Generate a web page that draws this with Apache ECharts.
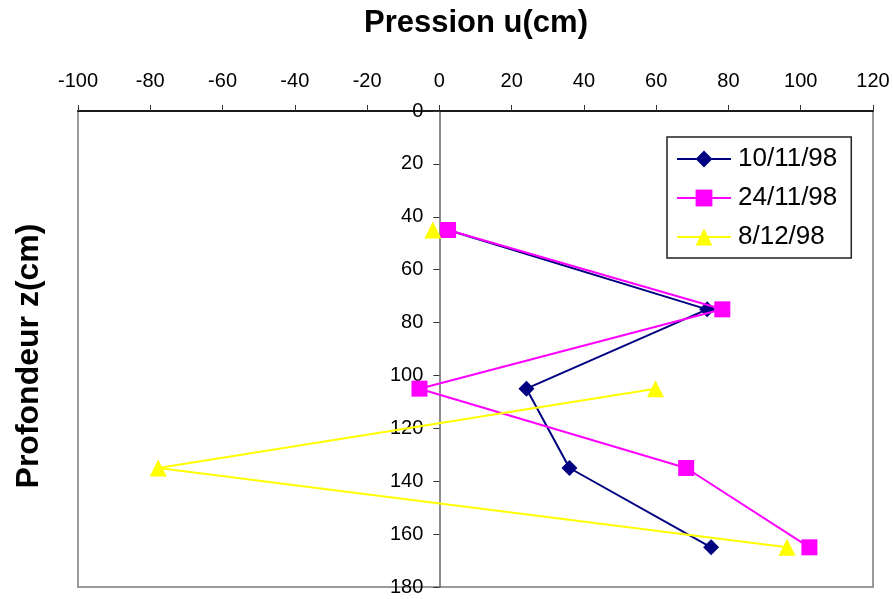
<!DOCTYPE html>
<html>
<head>
<meta charset="utf-8">
<script src="https://cdn.jsdelivr.net/npm/echarts@6/dist/echarts.min.js"></script>
<style>
  html, body { margin: 0; padding: 0; background: #fff; }
  #chart { width: 893px; height: 599px; }
</style>
</head>
<body>
<div id="chart"></div>
<script>
// Depth of each measuring point (cm)
const depths = [45, 75, 105, 135, 165];

// Pressure head u (cm) per campaign; null = no reading
const seriesNames = ['10/11/98', '24/11/98', '8/12/98'];
const u_10_11_98 = [2.4, 74.1, 24.1, 36.0, 75.2];
const u_24_11_98 = [2.4, 78.3, -5.5, 68.3, 102.4];
const u_8_12_98  = [-1.8, null, 59.8, -77.8, 96.2];

const xTicks = { min: -100, max: 120, step: 20 };
const yTicks = { min: 0, max: 180, step: 20 };

const FONT = '"Liberation Sans", Arial, sans-serif';

const GRID = { left: 78, right: 20, top: 111, bottom: 12 };
const plotWidth = 893 - GRID.left - GRID.right;
// the depth axis sits on u = 0
const zeroOffset = plotWidth * (0 - xTicks.min) / (xTicks.max - xTicks.min);

function pairs(values) {
  return depths.map((d, i) => [values[i] === null ? '-' : values[i], d]);
}

const styles = [
  { color: '#000080', symbol: 'diamond', size: 16 },
  { color: '#FF00FF', symbol: 'rect', size: 16 },
  { color: '#FFFF00', symbol: 'triangle', size: 17 }
];
const valueSets = [u_10_11_98, u_24_11_98, u_8_12_98];

const chart = echarts.init(document.getElementById('chart'), null, { renderer: 'canvas' });

chart.setOption({
  animation: false,
  backgroundColor: '#fff',
  textStyle: { fontFamily: FONT },
  graphic: [
    {
      type: 'text',
      x: 476,
      y: 8,
      style: { text: 'Pression u(cm)', font: 'bold 31px ' + FONT, fill: '#000', textAlign: 'center' }
    },
    {
      type: 'text',
      x: 13,
      y: 356,
      rotation: Math.PI / 2,
      style: { text: 'Profondeur z(cm)', font: 'bold 32px ' + FONT, fill: '#000', textAlign: 'center' }
    }
  ],
  grid: {
    left: GRID.left, right: GRID.right, top: GRID.top, bottom: GRID.bottom,
    show: true,
    borderColor: '#9a9a9a',
    borderWidth: 2,
    backgroundColor: '#fff'
  },
  legend: {
    orient: 'vertical',
    left: 667,
    top: 137,
    padding: [9, 14, 8, 9],
    itemGap: 13,
    itemWidth: 54,
    itemHeight: 21,
    backgroundColor: '#fff',
    borderColor: '#222',
    borderWidth: 1.5,
    borderRadius: 0,
    textStyle: { fontSize: 26, color: '#000', fontFamily: FONT, padding: [0, 0, 0, 2] },
    data: seriesNames
  },
  xAxis: {
    type: 'value',
    position: 'top',
    min: xTicks.min,
    max: xTicks.max,
    interval: xTicks.step,
    axisLine: { onZero: false, lineStyle: { color: '#1a1a1a', width: 2 } },
    axisTick: { show: true, inside: false, length: 6, lineStyle: { color: '#333', width: 1 } },
    axisLabel: { fontSize: 20, color: '#000', margin: 20, fontFamily: FONT },
    splitLine: { show: false }
  },
  yAxis: {
    type: 'value',
    inverse: true,
    position: 'left',
    offset: -zeroOffset,
    min: yTicks.min,
    max: yTicks.max,
    interval: yTicks.step,
    axisLine: { show: true, onZero: false, lineStyle: { color: '#666', width: 1.5 } },
    axisTick: { show: true, inside: false, length: 6, lineStyle: { color: '#333', width: 1 } },
    axisLabel: { fontSize: 20, color: '#000', margin: 16, fontFamily: FONT },
    splitLine: { show: false }
  },
  series: seriesNames.map((name, k) => ({
    name: name,
    type: 'line',
    data: pairs(valueSets[k]),
    symbol: styles[k].symbol,
    symbolSize: styles[k].size,
    showAllSymbol: true,
    connectNulls: false,
    color: styles[k].color,
    lineStyle: { color: styles[k].color, width: 2 },
    itemStyle: { color: styles[k].color, borderWidth: 0 },
    z: 2 + k
  }))
});
</script>
</body>
</html>
